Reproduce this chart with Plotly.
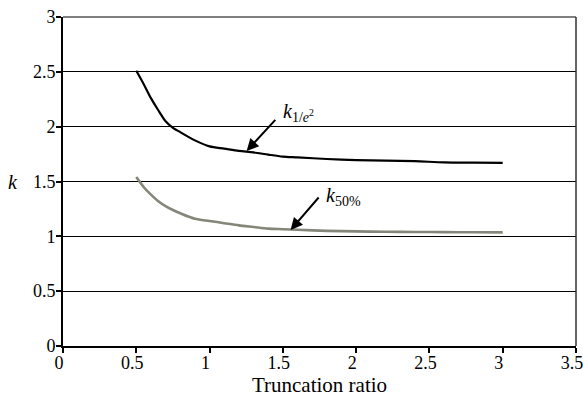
import plotly.graph_objects as go

truncation = [0.5, 0.55, 0.6, 0.65, 0.7, 0.75, 0.8, 0.9, 1.0, 1.1, 1.2, 1.3, 1.4, 1.5, 1.6, 1.8, 2.0, 2.2, 2.4, 2.6, 2.8, 3.0]
k_1e2 = [2.51, 2.39, 2.26, 2.15, 2.05, 1.99, 1.95, 1.875, 1.82, 1.80, 1.78, 1.765, 1.745, 1.727, 1.72, 1.705, 1.695, 1.69, 1.685, 1.675, 1.672, 1.67]
k_50 = [1.54, 1.45, 1.38, 1.32, 1.275, 1.24, 1.21, 1.16, 1.14, 1.12, 1.10, 1.085, 1.07, 1.065, 1.06, 1.05, 1.045, 1.042, 1.04, 1.038, 1.037, 1.036]

x_ticks = [0, 0.5, 1, 1.5, 2, 2.5, 3, 3.5]
y_ticks = [0, 0.5, 1, 1.5, 2, 2.5, 3]

FONT = "Liberation Serif"


def serif(v):
    return "<span style='font-family:Liberation Serif'>%s</span>" % v


fig = go.Figure()
fig.add_trace(go.Scatter(x=truncation, y=k_1e2, mode="lines",
                         line=dict(color="#000000", width=2.2, shape="spline", smoothing=0.8),
                         showlegend=False))
fig.add_trace(go.Scatter(x=truncation, y=k_50, mode="lines",
                         line=dict(color="#85857a", width=2.6, shape="spline", smoothing=0.8),
                         showlegend=False))

# arrows
fig.add_annotation(x=1.253, y=1.778, ax=1.458, ay=2.076, axref="x", ayref="y",
                   xref="x", yref="y", text="", showarrow=True, arrowhead=2,
                   arrowsize=1.2, arrowwidth=2, arrowcolor="#000000", standoff=0)
fig.add_annotation(x=1.553, y=1.058, ax=1.753, ay=1.368, axref="x", ayref="y",
                   xref="x", yref="y", text="", showarrow=True, arrowhead=2,
                   arrowsize=1.2, arrowwidth=2, arrowcolor="#000000", standoff=0)
# labels
fig.add_annotation(x=1.49, y=2.13, xref="x", yref="y", xanchor="left", yanchor="middle",
                   text="<i>k</i><sub>1/<i>e</i><sup>2</sup></sub>", showarrow=False,
                   font=dict(family=FONT, size=20, color="#000"))
fig.add_annotation(x=1.78, y=1.36, xref="x", yref="y", xanchor="left", yanchor="middle",
                   text="<i>k</i><sub>50%</sub>", showarrow=False,
                   font=dict(family=FONT, size=20, color="#000"))
# y-axis title
fig.add_annotation(x=-0.098, y=0.5, xref="paper", yref="paper", xanchor="center", yanchor="middle",
                   text="<i>k</i>", showarrow=False, font=dict(family=FONT, size=20, color="#000"))

# top and right borders
fig.add_shape(type="line", xref="paper", yref="paper", x0=0, x1=1, y0=1, y1=1,
              line=dict(color="#555555", width=1.5))
fig.add_shape(type="line", xref="paper", yref="paper", x0=1, x1=1, y0=0, y1=1,
              line=dict(color="#333333", width=1.5))

fig.update_layout(
    width=583, height=403,
    margin=dict(l=63, r=7, t=17, b=57),
    paper_bgcolor="white", plot_bgcolor="white",
    font=dict(family=FONT, size=18, color="#000"),
    xaxis=dict(range=[0, 3.5], tickvals=x_ticks, ticktext=[serif(v) for v in x_ticks],
               showgrid=False, zeroline=False, showline=True, linecolor="#000", linewidth=2,
               ticks="outside", ticklen=5, tickwidth=1.5, tickcolor="#000",
               automargin=False, ticklabeloverflow="allow", ticklabelshift=-4,
               ticklabelstandoff=-6,
               tickfont=dict(family=FONT, size=18, color="#000"),
               title=dict(text="Truncation ratio", font=dict(family=FONT, size=21), standoff=4)),
    yaxis=dict(range=[0, 3], tickvals=y_ticks, ticktext=[serif(v) for v in y_ticks],
               showgrid=True, gridcolor="#000", gridwidth=1, zeroline=False,
               showline=True, linecolor="#000", linewidth=2,
               ticks="outside", ticklen=5, tickwidth=1.5, tickcolor="#000",
               automargin=False, ticklabeloverflow="allow", ticklabelstandoff=-3,
               tickfont=dict(family=FONT, size=18, color="#000")),
)

fig.write_html("out.html", config={"displayModeBar": False},
               post_script="document.body.style.margin='0';document.body.style.overflow='hidden';")
